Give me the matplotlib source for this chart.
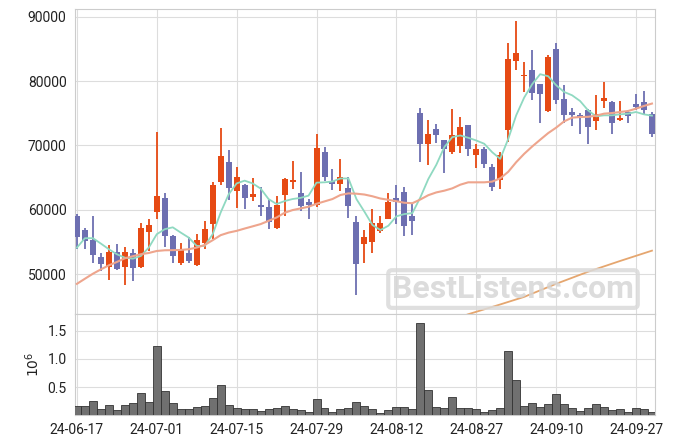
import numpy as np
import matplotlib
matplotlib.use('Agg')
import matplotlib.pyplot as plt

plt.rcParams['font.family'] = ['Roboto', 'DejaVu Sans']

# daily OHLC
opens = [59060, 56880, 55310, 52660, 51050, 53440, 51140, 53230, 51140, 56610,
         59580, 61830, 55940, 51770, 53280, 51360, 54890, 57860, 64270, 67500,
         62860, 63910, 62030, 60780, 60360, 57230, 62230, 64270, 62610, 61140,
         60730, 69060, 64530, 64020, 63390, 58130, 54730, 55050, 56720, 58640,
         61830, 62810, 59060, 75050, 70160, 72500, 70780, 68950, 69890, 73130,
         68550, 69380, 66720, 64640, 72450, 83170, 80830, 81720, 79530, 75360,
         85000, 77300, 75160, 74800, 75470, 73800, 76920, 76720, 73910, 75160,
         76410, 76720, 74840]
highs = [59330, 57190, 59060, 53330, 54530, 54730, 54270, 53860, 57970, 58590,
         72080, 62610, 56000, 54800, 55730, 56200, 58280, 64270, 72770, 69330,
         66610, 64000, 64950, 63480, 61520, 62190, 64900, 67660, 65940, 61670,
         71830, 69840, 66360, 67920, 65050, 59060, 56830, 60110, 59020, 62610,
         63910, 63480, 60980, 75890, 73910, 73280, 70900, 75630, 74420, 73200,
         70270, 69730, 67140, 68950, 85890, 89380, 83020, 84840, 79600, 84060,
         85890, 79480, 75890, 75110, 75670, 77920, 79890, 76920, 76920, 75580,
         78080, 78440, 75200]
lows = [53860, 53860, 51770, 50550, 49020, 50700, 48280, 48910, 50950, 53590,
        58550, 54270, 51770, 51410, 51770, 51200, 53950, 55420, 63900, 61520,
        60270, 60110, 61410, 59060, 56980, 57000, 59060, 63230, 59840, 58550,
        60500, 64530, 63080, 62970, 58700, 46720, 51770, 53230, 56450, 58500,
        57770, 55940, 56140, 67390, 67030, 70360, 65730, 68700, 68860, 68330,
        66450, 66560, 62970, 63230, 70520, 81720, 78330, 77030, 73480, 75200,
        76520, 73480, 72970, 71830, 70270, 72450, 75890, 71830, 73800, 73480,
        75580, 74800, 71300]
closes = [55830, 55200, 52920, 51520, 53440, 50830, 53440, 50980, 57190, 57660,
          62190, 55980, 52860, 53750, 52080, 55310, 57030, 63910, 68330, 63330,
          65160, 61770, 62450, 60360, 58080, 60780, 64800, 64690, 60520, 60730,
          69640, 65050, 64020, 65050, 60520, 51520, 55780, 57970, 57970, 61250,
          61140, 57550, 58330, 70160, 71830, 71610, 69480, 71670, 72810, 69480,
          69380, 67080, 63480, 68590, 83440, 84380, 80940, 78170, 77970, 83750,
          77030, 74730, 74730, 74420, 72860, 74950, 77340, 73480, 74330, 74530,
          75980, 75580, 71830]

# volume in millions
volume = [0.16, 0.16, 0.25, 0.11, 0.18, 0.09, 0.18, 0.21, 0.39, 0.23,
          1.23, 0.43, 0.21, 0.11, 0.11, 0.14, 0.16, 0.30, 0.53, 0.18,
          0.125, 0.11, 0.11, 0.07, 0.11, 0.125, 0.16, 0.11, 0.09, 0.05,
          0.29, 0.125, 0.05, 0.11, 0.125, 0.23, 0.16, 0.11, 0.035, 0.09,
          0.14, 0.14, 0.11, 1.64, 0.45, 0.14, 0.125, 0.32, 0.125, 0.125,
          0.11, 0.05, 0.09, 0.125, 1.14, 0.625, 0.16, 0.21, 0.14, 0.20,
          0.375, 0.20, 0.125, 0.07, 0.125, 0.20, 0.14, 0.09, 0.11, 0.05,
          0.125, 0.11, 0.05]

ma_short = [54110, 55580, 55580, 54740, 53860, 53080, 52550, 52390, 52810, 54120,
            56200, 56980, 57270, 56450, 55670, 54380, 54380, 56200, 59580, 62400,
            64100, 64530, 64100, 63300, 61660, 60890, 61350, 61670, 61850, 62200,
            64220, 64270, 64400, 64870, 64870, 61660, 59700, 57630, 56850, 57520,
            58980, 59330, 59480, 61920, 64790, 67000, 69740, 71300, 71560, 71200,
            70780, 70270, 68950, 67920, 71000, 74690, 77450, 79530, 81090, 80780,
            79380, 78330, 77810, 76920, 75470, 74530, 74690, 74690, 74840, 74950,
            75210, 74840, 74640]
ma_mid = [48480, 49270, 50050, 50730, 51360, 51880, 52450, 52770, 53080, 53280,
          53590, 53700, 53720, 53750, 53860, 54120, 54530, 55270, 56050, 56450,
          56720, 57080, 57420, 57770, 58280, 58800, 59530, 59950, 60210, 60470,
          60930, 61300, 61670, 62300, 62550, 62500, 62370, 62100, 61750, 61550,
          61330, 61090, 61020, 61600, 62270, 62700, 62970, 63330, 63900, 64270,
          64270, 64270, 64380, 64890, 65900, 67400, 68700, 69840, 70890, 71920,
          72770, 73750, 74330, 74430, 74460, 74640, 74950, 75050, 75210, 75360,
          75730, 76150, 76520]
ma_long_idx = [48, 49, 53, 56, 60, 64, 68, 72]
ma_long = [43300, 43750, 45270, 46450, 48480, 50360, 52030, 53640]

tick_idx = [0, 10, 20, 30, 40, 50, 60, 70]
tick_labels = ['24-06-17', '24-07-01', '24-07-15', '24-07-29',
               '24-08-12', '24-08-27', '24-09-10', '24-09-27']

up_col = '#e64a14'
down_col = '#6d6fb1'
grid_col = '#dddddd'

o = np.array(opens); c = np.array(closes)
h = np.array(highs); l = np.array(lows)
x = np.arange(len(o))
cols = [up_col if cc >= oo else down_col for oo, cc in zip(o, c)]

fig = plt.figure(figsize=(6.75, 4.44), dpi=100)
ax = fig.add_axes([0.111, 0.293, 0.859, 0.687])
axv = fig.add_axes([0.111, 0.065, 0.859, 0.228], sharex=ax)

# candles
ax.vlines(x, l, h, colors=cols, linewidth=1.3, zorder=3)
body = np.maximum(np.abs(c - o), 80)
ax.bar(x, body, bottom=np.minimum(o, c), width=0.75, color=cols, zorder=4)

ax.plot(x, ma_short, color='#8fd9c1', lw=1.3, zorder=5)
ax.plot(x, ma_mid, color='#eea58d', lw=1.5, zorder=5)
ax.plot(ma_long_idx, ma_long, color='#e5a66f', lw=1.3, zorder=5)

ax.set_ylim(43800, 91250)
ax.set_yticks([50000, 60000, 70000, 80000, 90000])
ax.set_xlim(-0.25, 72.35)
ax.set_xticks(tick_idx)
ax.tick_params(axis='x', labelbottom=False, length=0)
ax.tick_params(axis='y', length=0, labelsize=10, colors='#222222', pad=6)

# volume
axv.bar(x, volume, width=1.0, color='#707070', edgecolor='#333333', linewidth=0.6, zorder=3)
axv.set_ylim(0, 1.8)
axv.set_yticks([0.5, 1.0, 1.5])
axv.set_yticklabels(['0.5', '1.0', '1.5'])
axv.set_ylabel(r'$10^6$', fontsize=10, color='#222222', labelpad=4)
axv.set_xticks(tick_idx)
axv.set_xticklabels(tick_labels)
axv.tick_params(length=0, labelsize=10, colors='#222222', pad=6)

for a in (ax, axv):
    a.grid(True, color=grid_col, linewidth=0.8, zorder=0)
    a.set_axisbelow(True)
    for s in a.spines.values():
        s.set_color('#cccccc')
        s.set_linewidth(0.8)

# watermark
fig.text(0.760, 0.349, 'BestListens.com', fontsize=23, fontweight='bold',
         color='#d6d6d6', alpha=0.85, ha='center', va='center', zorder=10,
         bbox=dict(boxstyle='round,pad=0.12', facecolor='none',
                   edgecolor='#dadada', linewidth=3, alpha=0.85))

fig.savefig('out.png', dpi=100)
